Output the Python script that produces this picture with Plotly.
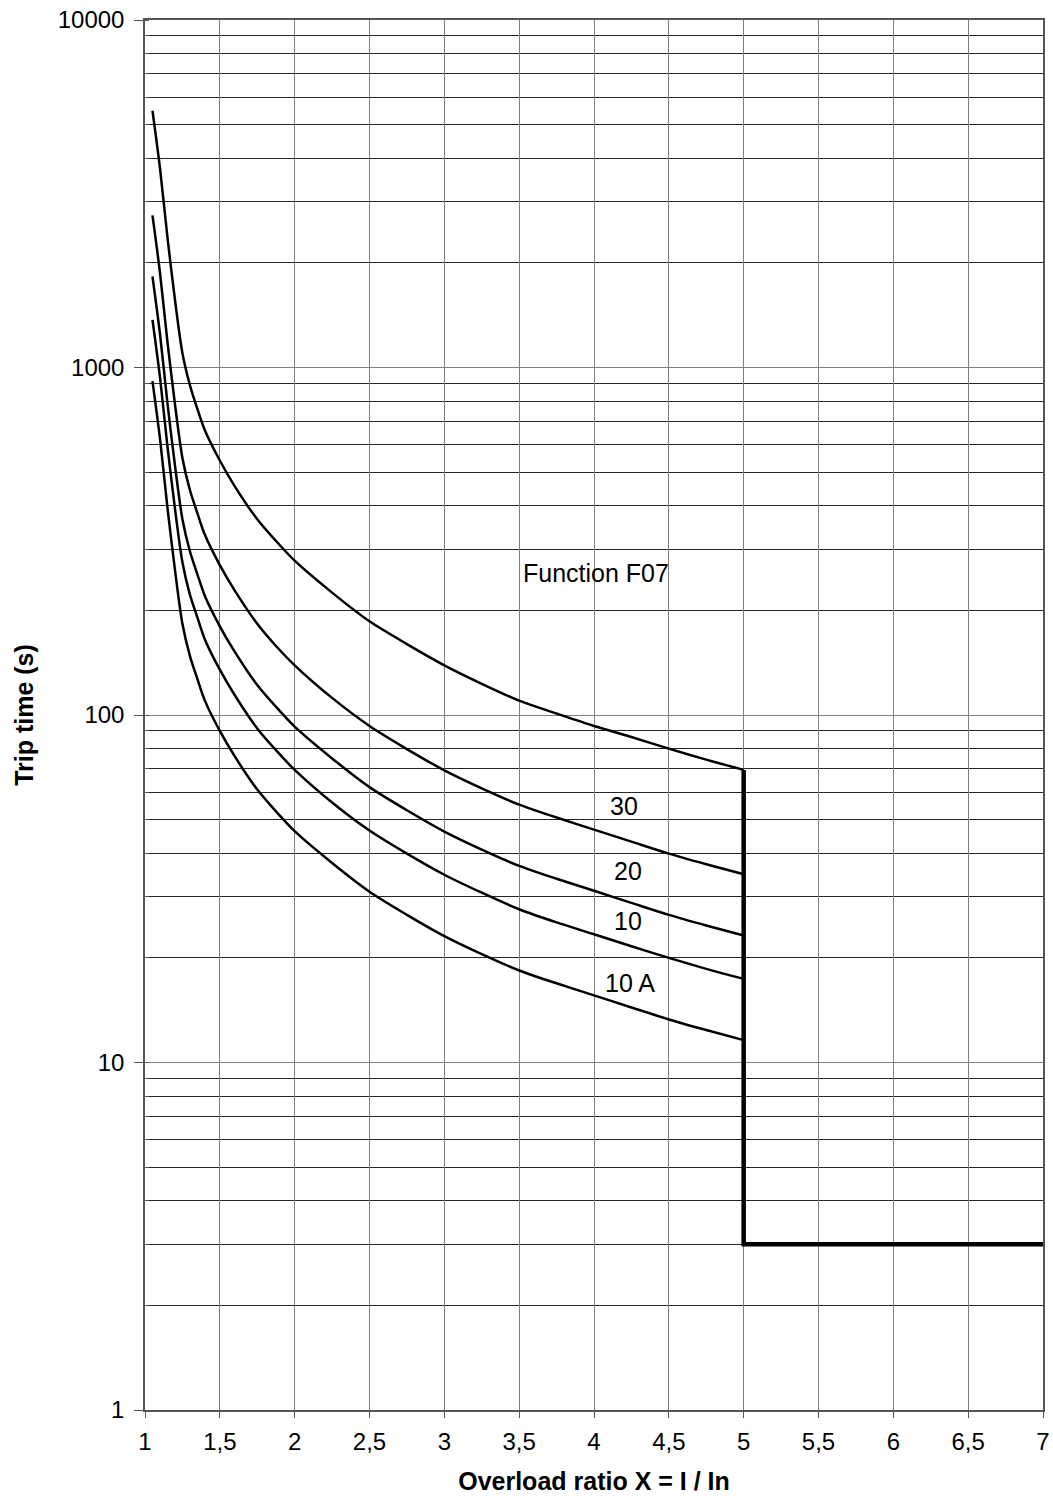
import math
import plotly.graph_objects as go

# Overload ratio sample points
x_ratio = [1.05, 1.1, 1.15, 1.2, 1.25, 1.3, 1.35, 1.4, 1.5, 1.6, 1.75, 1.875, 2, 2.25,
           2.5, 2.75, 3, 3.25, 3.5, 3.75, 4, 4.25, 4.5, 4.75, 5]

# Trip times (s), one list per curve (top to bottom)
curve_top = [5480, 3750, 2370, 1570, 1100, 890, 760, 660, 540, 455, 366, 317, 278, 225,
             186, 160, 139, 123, 110, 101, 93, 86.4, 80, 74.4, 69.5]
curve_30 = [2740, 1875, 1185, 786, 549, 444, 381, 330, 270, 228, 183, 158, 139, 112,
            93, 79.8, 69.3, 61.5, 55.2, 50.7, 46.8, 43.2, 39.9, 37.2, 34.8]
curve_20 = [1828, 1250, 790, 524, 366, 296, 254, 220, 180, 152, 122, 105.6, 92.6, 75,
            62, 53.2, 46.2, 41, 36.8, 33.8, 31.2, 28.8, 26.6, 24.8, 23.2]
curve_10 = [1371, 938, 593, 393, 275, 222, 191, 165, 135, 114, 91.5, 79.2, 69.5, 56,
            46.5, 39.9, 34.7, 30.8, 27.6, 25.3, 23.4, 21.6, 20.0, 18.6, 17.4]
curve_10a = [914, 625, 395, 262, 183, 148, 127, 110, 90, 76, 61, 52.8, 46.3, 37.5,
             31, 26.6, 23.1, 20.5, 18.4, 16.9, 15.6, 14.4, 13.3, 12.4, 11.6]

# Instantaneous step (thick line)
step_x = [5, 5, 7]
step_y = [69.5, 3, 3]

# Tick labels
x_ticks = [1, 1.5, 2, 2.5, 3, 3.5, 4, 4.5, 5, 5.5, 6, 6.5, 7]
x_tick_text = ["1", "1,5", "2", "2,5", "3", "3,5", "4", "4,5", "5", "5,5", "6", "6,5", "7"]
y_ticks = [1, 10, 100, 1000, 10000]
y_tick_text = ["1", "10", "100", "1000", "10000"]

# Labels
labels_text = ["Function F07", "30", "20", "10", "10 A"]
labels_x = [4.01, 4.2, 4.23, 4.23, 4.24]
labels_y = [256, 54.7, 35.6, 25.5, 16.9]

FONT = "Liberation Sans, Arial, sans-serif"

fig = go.Figure()
for ys in [curve_top, curve_30, curve_20, curve_10, curve_10a]:
    fig.add_trace(go.Scatter(x=x_ratio, y=ys, mode="lines",
                             line=dict(color="black", width=2.5, shape="spline", smoothing=0.8),
                             showlegend=False, hoverinfo="skip"))
fig.add_trace(go.Scatter(x=step_x, y=step_y, mode="lines",
                         line=dict(color="black", width=4.5),
                         showlegend=False, hoverinfo="skip"))

for t, lx, ly in zip(labels_text, labels_x, labels_y):
    fig.add_annotation(x=lx, y=math.log10(ly), yref="y", xref="x", text=t, showarrow=False,
                       font=dict(family=FONT, size=25, color="black"),
                       xanchor="center", yanchor="middle")

fig.update_layout(
    width=1053, height=1504,
    margin=dict(l=145, r=10, t=20, b=94),
    paper_bgcolor="white", plot_bgcolor="white",
    font=dict(family=FONT, size=24, color="black"),
)
fig.update_xaxes(
    range=[1, 7], tickvals=x_ticks, ticktext=x_tick_text, automargin=False,
    showgrid=True, gridcolor="#808080", gridwidth=1.2,
    showline=True, linecolor="#555555", linewidth=1.5, mirror=True,
    ticks="outside", ticklen=6, tickcolor="#555555",
    ticklabelstandoff=3,
    tickfont=dict(family=FONT, size=24, color="black"),
    title=dict(text="<b>Overload ratio X = I / In</b>", standoff=19,
               font=dict(family=FONT, size=25, color="black")),
    zeroline=False,
)
fig.update_yaxes(
    type="log", range=[0, 4], tickvals=y_ticks, ticktext=y_tick_text, automargin=False,
    showgrid=True, gridcolor="#808080", gridwidth=1.2,
    minor=dict(dtick="D1", showgrid=True, gridcolor="#262626", gridwidth=1,
               ticks="inside", ticklen=4, tickcolor="#555555"),
    showline=True, linecolor="#555555", linewidth=1.5, mirror=True,
    ticks="outside", ticklen=9, tickcolor="#555555",
    ticklabelstandoff=5,
    tickfont=dict(family=FONT, size=24, color="black"),
    title=dict(text="<b>Trip time (s)</b>", standoff=17,
               font=dict(family=FONT, size=25, color="black")),
    zeroline=False,
)

fig.write_html("out.html", config={"displayModeBar": False},
               post_script="document.body.style.margin='0';document.body.style.overflow='hidden';")
